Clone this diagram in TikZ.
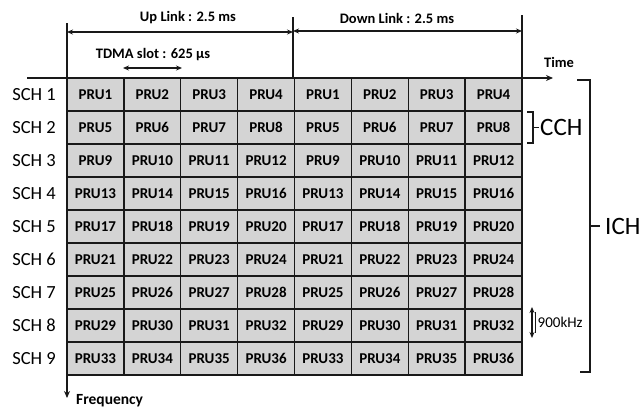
\documentclass[tikz,border=0pt]{standalone}
\usepackage{fontspec}
\setmainfont{Carlito}
\usetikzlibrary{arrows.meta}
\definecolor{cellgray}{RGB}{212,212,212}
\definecolor{ink}{RGB}{25,25,25}
\begin{document}
\begin{tikzpicture}[x=1pt,y=-1pt,
  cell/.style={draw=ink, line width=1.3pt, fill=cellgray, minimum width=56.875pt,
    minimum height=33pt, inner sep=0pt, font=\bfseries\fontsize{15}{15}\selectfont},
  lbl/.style={inner sep=0pt, font=\bfseries\fontsize{14.5}{14.5}\selectfont},
  sch/.style={inner sep=0pt, font=\fontsize{18.5}{18.5}\selectfont},
  big/.style={inner sep=0pt, font=\fontsize{25}{25}\selectfont},
  axis/.style={draw=ink, line width=1.5pt},
  onearrow/.style={draw=ink, line width=1.3pt, -{Stealth[length=7pt,width=6pt]}},
  twoarrow/.style={draw=ink, line width=1.3pt, {Stealth[length=6pt,width=5pt]}-{Stealth[length=6pt,width=5pt]}},
  brk/.style={draw=ink, line width=1.5pt}
  ]
\useasboundingbox (0,0) rectangle (643,407);
% cells
\foreach \r in {1,...,9}{
  \foreach \c in {1,...,8}{
    \pgfmathtruncatemacro{\n}{4*(\r-1)+mod(\c-1,4)+1}
    \node[cell] (c\r-\c) at ({67+56.875*(\c-0.5)},{78+33*(\r-0.5)}) {PRU\n};
  }
  \node[sch] (s\r) at (34,{78+33*(\r-0.5)}) {SCH \r};
}
% axes and guide lines
\coordinate (lt) at (67,23);
\coordinate (fq) at (67,398);
\coordinate (mt) at (293,17);
\coordinate (mb) at (293,78);
\coordinate (rt) at (522,15);
\coordinate (rb) at (522,78);
\coordinate (ts) at (27,78);
\coordinate (te) at (553,78);
\draw[axis] (lt) -- (67,78);
\draw[onearrow] (67,375) -- (fq);
\draw[axis] (mt) -- (mb);
\draw[axis] (rt) -- (rb);
\draw[onearrow] (ts) -- (te);
\node[lbl, anchor=south west] (time) at (544,68) {Time};
\node[lbl, anchor=north west, font=\bfseries\fontsize{15.5}{15.5}\selectfont] (freq) at (76,394) {Frequency};
% uplink / downlink
\coordinate (ua) at (67,32);
\coordinate (ub) at (293,32);
\coordinate (da) at (293,31);
\coordinate (db) at (522,31);
\draw[twoarrow] (ua) -- (ub);
\draw[twoarrow] (da) -- (db);
\node[lbl] (up) at (188,18) {Up Link : 2.5 ms};
\node[lbl] (down) at (397,18) {Down Link : 2.5 ms};
% TDMA slot
\coordinate (ta) at (123,68);
\coordinate (tb) at (182,68);
\draw[twoarrow] (ta) -- (tb);
\node[lbl] (tdma) at (153,55) {TDMA slot : 625 µs};
% CCH bracket
\draw[brk] (527,112) -- (533,112) -- (533,143) -- (527,143);
\draw[brk] (533,127.5) -- (539,127.5);
\node[big, anchor=west] (cch) at (540,127.5) {CCH};
% ICH bracket
\draw[brk] (577,80) -- (590,80) -- (590,372) -- (580,372);
\draw[brk] (590,226) -- (600,226);
\node[big, anchor=west] (ich) at (605,226) {ICH};
% 900 kHz
\coordinate (ka) at (532,307);
\coordinate (kb) at (532,338);
\draw[twoarrow] (ka) -- (kb);
\draw[draw=ink, line width=0.8pt] (535.5,312) -- (535.5,333);
\node[inner sep=0pt, anchor=west, font=\fontsize{15}{15}\selectfont] (khz) at (537.5,322.5) {900kHz};
\end{tikzpicture}
\end{document}
